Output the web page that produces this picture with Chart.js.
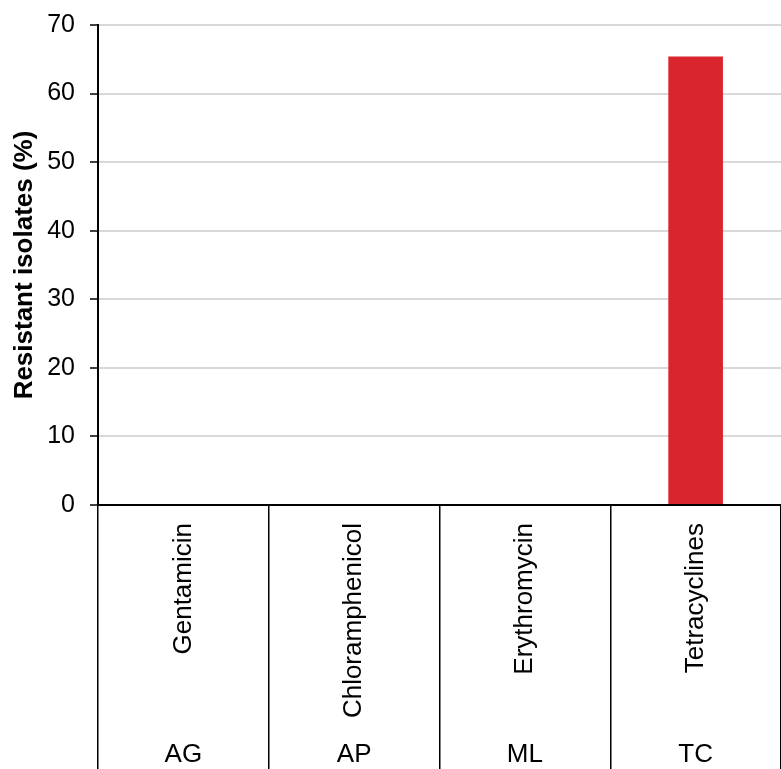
<!DOCTYPE html>
<html>
<head>
<meta charset="utf-8">
<script src="https://cdn.jsdelivr.net/npm/chart.js@4"></script>
<style>
  html, body { margin: 0; padding: 0; background: #fff; }
  #wrap { width: 781px; height: 769px; position: relative; }
</style>
</head>
<body>
<div id="wrap"><canvas id="chart" width="781" height="769"></canvas></div>
<script>
// data
const drugs = ["Gentamicin", "Chloramphenicol", "Erythromycin", "Tetracyclines"];
const groups = ["AG", "AP", "ML", "TC"];
const resistant = [0, 0, 0, 65.4];
const yTicks = [0, 10, 20, 30, 40, 50, 60, 70];

const FONT = "'Liberation Sans', Arial, sans-serif";

// draws the rotated drug names and the class labels under the axis
const twoLevelLabels = {
  id: "twoLevelLabels",
  afterDraw(chart) {
    const ctx = chart.ctx;
    const x = chart.scales.x;
    ctx.save();
    ctx.fillStyle = "#000";
    ctx.font = "26px " + FONT;
    drugs.forEach((name, i) => {
      const px = x.getPixelForValue(i);
      ctx.save();
      ctx.translate(px, 523);
      ctx.rotate(-Math.PI / 2);
      ctx.textAlign = "right";
      ctx.textBaseline = "middle";
      ctx.fillText(name, 0, 0);
      ctx.restore();
    });
    ctx.textAlign = "center";
    ctx.textBaseline = "middle";
    groups.forEach((g, i) => {
      ctx.fillText(g, x.getPixelForValue(i), 755);
    });
    ctx.restore();
  },
};

new Chart(document.getElementById("chart"), {
  type: "bar",
  data: {
    labels: drugs,
    datasets: [
      {
        data: resistant,
        backgroundColor: "#d9262e",
        borderWidth: 0,
        barPercentage: 0.32,
        categoryPercentage: 1,
      },
    ],
  },
  options: {
    responsive: false,
    animation: false,
    layout: { padding: { top: 24, right: 0, left: 0, bottom: 0 } },
    plugins: {
      legend: { display: false },
      tooltip: { enabled: false },
    },
    scales: {
      x: {
        offset: true,
        grid: {
          offset: true,
          drawOnChartArea: false,
          drawTicks: true,
          tickLength: 264,
          color: "#000",
          lineWidth: 1.5,
        },
        border: { color: "#000", width: 2 },
        ticks: { display: false },
        afterFit(scale) {
          scale.height = 264;
        },
      },
      y: {
        min: 0,
        max: 70,
        afterBuildTicks(scale) {
          scale.ticks = yTicks.map((v) => ({ value: v }));
        },
        grid: {
          color: "#d9d9d9",
          lineWidth: 2,
          tickLength: 8,
          tickColor: "#000",
          tickWidth: 1.5,
        },
        border: { color: "#000", width: 2 },
        ticks: {
          color: "#000",
          padding: 15,
          font: { family: FONT, size: 25, lineHeight: 0.8 },
        },
        title: {
          display: true,
          text: "Resistant isolates (%)",
          color: "#000",
          font: { family: FONT, size: 26, weight: "bold" },
          padding: { top: 9, bottom: 6 },
        },
        afterFit(scale) {
          scale.width = 98;
        },
      },
    },
  },
  plugins: [twoLevelLabels],
});
</script>
</body>
</html>
